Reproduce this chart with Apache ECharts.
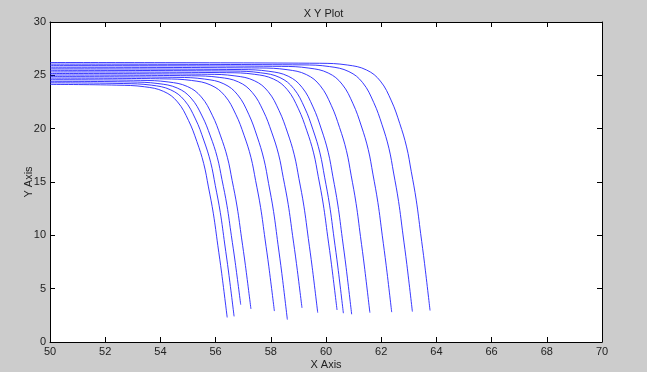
<!DOCTYPE html>
<html>
<head>
<meta charset="utf-8">
<script src="https://cdn.jsdelivr.net/npm/echarts@6/dist/echarts.min.js"></script>
<style>
html,body{margin:0;padding:0;background:#cccccc;}
#chart{width:647px;height:372px;}
</style>
</head>
<body>
<div id="chart"></div>
<script>
const titleText = "X Y Plot";
const xAxisName = "X Axis";
const yAxisName = "Y Axis";
const xRange = [50, 70, 2];
const yRange = [0, 30, 5];

const x01 = [50, 52.42, 53.42, 54.12, 54.62, 55.02, 55.32, 55.57, 55.74, 55.92, 56.08, 56.22, 56.42];
const y01 = [24.15, 24.08, 23.93, 23.49, 22.51, 20.76, 18.80, 16.72, 14.54, 12.02, 9.07, 6.45, 2.3];
const x02 = [50, 52.67, 53.67, 54.37, 54.87, 55.27, 55.57, 55.82, 55.99, 56.17, 56.33, 56.47, 56.67];
const y02 = [24.30, 24.23, 24.08, 23.64, 22.66, 20.91, 18.93, 16.85, 14.66, 12.15, 9.19, 6.56, 2.4];
const x03 = [50, 52.91, 53.91, 54.61, 55.11, 55.51, 55.81, 56.06, 56.23, 56.41, 56.57, 56.71, 56.91];
const y03 = [24.44, 24.38, 24.23, 23.81, 22.87, 21.19, 19.31, 17.32, 15.23, 12.82, 9.99, 7.48, 3.5];
const x04 = [50, 53.28, 54.28, 54.98, 55.48, 55.88, 56.18, 56.43, 56.60, 56.78, 56.94, 57.08, 57.28];
const y04 = [24.59, 24.53, 24.38, 23.95, 22.98, 21.26, 19.32, 17.28, 15.13, 12.66, 9.76, 7.18, 3.1];
const x05 = [50, 54.13, 55.13, 55.83, 56.33, 56.73, 57.03, 57.28, 57.45, 57.63, 57.79, 57.93, 58.13];
const y05 = [24.74, 24.67, 24.52, 24.08, 23.10, 21.35, 19.39, 17.31, 15.13, 12.62, 9.67, 7.05, 2.9];
const x06 = [50, 54.60, 55.60, 56.30, 56.80, 57.20, 57.50, 57.75, 57.92, 58.10, 58.26, 58.40, 58.60];
const y06 = [24.88, 24.81, 24.65, 24.20, 23.17, 21.35, 19.30, 17.13, 14.86, 12.24, 9.16, 6.43, 2.1];
const x07 = [50, 55.13, 56.13, 56.83, 57.33, 57.73, 58.03, 58.28, 58.45, 58.63, 58.79, 58.93, 59.13];
const y07 = [25.03, 24.96, 24.81, 24.38, 23.39, 21.65, 19.68, 17.61, 15.42, 12.91, 9.97, 7.35, 3.2];
const x08 = [50, 55.70, 56.70, 57.40, 57.90, 58.30, 58.60, 58.85, 59.02, 59.20, 59.36, 59.50, 59.70];
const y08 = [25.17, 25.10, 24.95, 24.50, 23.49, 21.69, 19.68, 17.55, 15.31, 12.73, 9.70, 7.01, 2.75];
const x09 = [50, 56.40, 57.40, 58.10, 58.60, 59.00, 59.30, 59.55, 59.72, 59.90, 60.06, 60.20, 60.40];
const y09 = [25.32, 25.25, 25.10, 24.65, 23.65, 21.86, 19.85, 17.73, 15.50, 12.93, 9.92, 7.24, 3.0];
const x10 = [50, 56.63, 57.63, 58.33, 58.83, 59.23, 59.53, 59.78, 59.95, 60.13, 60.29, 60.43, 60.63];
const y10 = [25.47, 25.40, 25.24, 24.79, 23.76, 21.94, 19.89, 17.73, 15.45, 12.83, 9.76, 7.03, 2.7];
const x11 = [50, 56.93, 57.93, 58.63, 59.13, 59.53, 59.83, 60.08, 60.25, 60.43, 60.59, 60.73, 60.93];
const y11 = [25.61, 25.54, 25.38, 24.92, 23.88, 22.04, 19.97, 17.79, 15.49, 12.84, 9.73, 6.97, 2.6];
const x12 = [50, 57.59, 58.59, 59.29, 59.79, 60.19, 60.49, 60.74, 60.91, 61.09, 61.25, 61.39, 61.59];
const y12 = [25.76, 25.69, 25.53, 25.07, 24.03, 22.19, 20.12, 17.94, 15.64, 12.99, 9.88, 7.12, 2.75];
const x13 = [50, 58.38, 59.38, 60.08, 60.58, 60.98, 61.28, 61.53, 61.70, 61.88, 62.04, 62.18, 62.38];
const y13 = [25.91, 25.84, 25.68, 25.22, 24.18, 22.33, 20.25, 18.05, 15.74, 13.08, 9.96, 7.19, 2.8];
const x14 = [50, 59.13, 60.13, 60.83, 61.33, 61.73, 62.03, 62.28, 62.45, 62.63, 62.79, 62.93, 63.13];
const y14 = [26.05, 25.98, 25.82, 25.35, 24.31, 22.45, 20.37, 18.16, 15.84, 13.17, 10.04, 7.26, 2.85];
const x15 = [50, 59.77, 60.77, 61.47, 61.97, 62.37, 62.67, 62.92, 63.09, 63.27, 63.43, 63.57, 63.77];
const y15 = [26.20, 26.13, 25.97, 25.50, 24.46, 22.60, 20.50, 18.29, 15.97, 13.30, 10.16, 7.37, 2.95];

const curvesX = [x01, x02, x03, x04, x05, x06, x07, x08, x09, x10, x11, x12, x13, x14, x15];
const curvesY = [y01, y02, y03, y04, y05, y06, y07, y08, y09, y10, y11, y12, y13, y14, y15];

const chart = echarts.init(document.getElementById('chart'), null, {renderer: 'canvas'});
const font = 'Liberation Sans, Arial, sans-serif';
const txt = '#222222';

const series = curvesX.map((xs, i) => ({
  type: 'line',
  data: xs.map((x, j) => [x, curvesY[i][j]]),
  showSymbol: false,
  smooth: 0.4,
  lineStyle: {color: '#2222ff', width: 0.9},
  animation: false,
  silent: true
}));

function xAx(pos, showLabel, name) {
  return {
    type: 'value', position: pos, min: xRange[0], max: xRange[1], interval: xRange[2],
    name: name, nameLocation: 'middle', nameGap: 17, nameMoveOverlap: false,
    nameTextStyle: {fontFamily: font, fontSize: 11, color: txt},
    axisLine: {show: true, onZero: false, lineStyle: {color: '#000', width: 1}},
    axisTick: {show: true, inside: true, length: 5, lineStyle: {color: '#000'}},
    axisLabel: {show: showLabel, fontFamily: font, fontSize: 11, color: txt, margin: 4},
    splitLine: {show: false}
  };
}
function yAx(pos, showLabel, name) {
  return {
    type: 'value', position: pos, min: yRange[0], max: yRange[1], interval: yRange[2],
    name: name, nameLocation: 'middle', nameGap: 16, nameMoveOverlap: false,
    nameTextStyle: {fontFamily: font, fontSize: 11, color: txt},
    axisLine: {show: true, onZero: false, lineStyle: {color: '#000', width: 1}},
    axisTick: {show: true, inside: true, length: 5, lineStyle: {color: '#000'}},
    axisLabel: {show: showLabel, fontFamily: font, fontSize: 11, color: txt, margin: 4},
    splitLine: {show: false}
  };
}

chart.setOption({
  backgroundColor: '#cccccc',
  animation: false,
  title: {text: titleText, left: 'center', top: 3,
    textStyle: {fontFamily: font, fontSize: 11, fontWeight: 'normal', color: txt}},
  grid: {left: 50, right: 45, top: 22, bottom: 30, show: true, backgroundColor: '#ffffff', borderWidth: 0,
    containLabel: false, outerBoundsMode: 'none'},
  xAxis: [xAx('bottom', true, xAxisName), xAx('top', false, '')],
  yAxis: [yAx('left', true, yAxisName), yAx('right', false, '')],
  series: series
});
</script>
</body>
</html>
